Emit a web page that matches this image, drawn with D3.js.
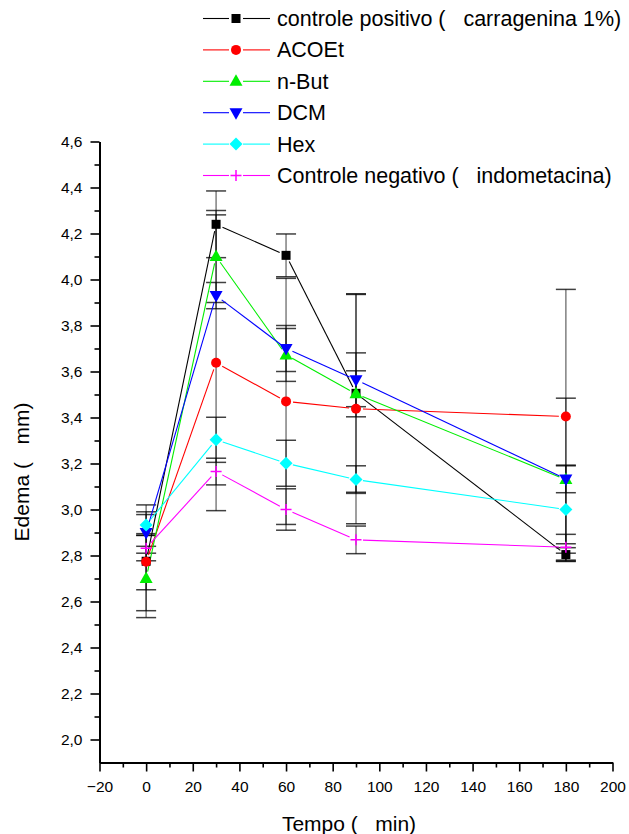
<!DOCTYPE html>
<html>
<head>
<meta charset="utf-8">
<script src="https://cdn.jsdelivr.net/npm/d3@7"></script>
<style>
  html, body { margin: 0; padding: 0; background: #fff; }
  svg { display: block; }
  text { font-family: "Liberation Sans", Arial, sans-serif; fill: #000; white-space: pre; }
</style>
</head>
<body>
<svg id="chart" width="629" height="834"></svg>
<script>
// ---- data ----
const times = [0, 30, 60, 90, 180];
const seriesNames = ["controle positivo (   carragenina 1%)", "ACOEt", "n-But", "DCM", "Hex", "Controle negativo (   indometacina)"];
const positivo = [2.775, 4.24, 4.105, 3.505, 2.804];
const positivoErr = [0.245, 0.145, 0.093, 0.43, 0.03];
const acoet = [2.773, 3.638, 3.47, 3.438, 3.404];
const acoetErr = [0.122, 0.643, 0.535, 0.50, 0.553];
const nbut = [2.70, 4.10, 3.672, 3.503, 3.13];
const nbutErr = [0.14, 0.20, 0.115, 0.10, 0.354];
const dcm = [2.90, 3.93, 3.70, 3.564, 3.133];
const dcmErr = [0.09, 0.057, 0.10, 0.117, 0.06];
const hex = [2.933, 3.303, 3.201, 3.13, 3.0];
const hexErr = [0.045, 0.098, 0.10, 0.06, 0.19];
const negativo = [2.832, 3.165, 3.0, 2.868, 2.836];
const negativoErr = [0.055, 0.058, 0.09, 0.06, 0.056];
const xTicks = [-20, 0, 20, 40, 60, 80, 100, 120, 140, 160, 180, 200];
const yTicks = [2.0, 2.2, 2.4, 2.6, 2.8, 3.0, 3.2, 3.4, 3.6, 3.8, 4.0, 4.2, 4.4, 4.6];

const colors = ["#000000", "#ff0000", "#00ee00", "#0000ff", "#00ffff", "#ff00ff"];
const symbols = ["square", "circle", "triUp", "triDown", "diamond", "plus"];
const values = [positivo, acoet, nbut, dcm, hex, negativo];
const errors = [positivoErr, acoetErr, nbutErr, dcmErr, hexErr, negativoErr];

const series = seriesNames.map((name, i) => ({
  name, color: colors[i], symbol: symbols[i],
  pts: times.map((t, j) => ({ t, v: values[i][j], e: errors[i][j] }))
}));

// ---- layout ----
const svg = d3.select("#chart");
const x = d3.scaleLinear().domain([-20, 200]).range([99.5, 612.5]);
const y = d3.scaleLinear().domain([1.9, 4.6]).range([762.5, 141.5]);

// axes
const fmt = d => d3.format(".1f")(d).replace(".", ",");
const gx = svg.append("g").attr("transform", `translate(0,${y(1.9)})`)
  .call(d3.axisBottom(x).tickValues(xTicks).tickSize(9).tickSizeOuter(0).tickPadding(6).tickFormat(d3.format("d")));
const gxm = svg.append("g").attr("transform", `translate(0,${y(1.9)})`)
  .call(d3.axisBottom(x).tickValues(d3.range(-10, 200, 20)).tickSize(5).tickSizeOuter(0).tickFormat(""));
const gy = svg.append("g").attr("transform", `translate(${x(-20)},0)`)
  .call(d3.axisLeft(y).tickValues(yTicks).tickSize(9).tickSizeOuter(0).tickPadding(8).tickFormat(fmt));
const gym = svg.append("g").attr("transform", `translate(${x(-20)},0)`)
  .call(d3.axisLeft(y).tickValues(d3.range(2.1, 4.6, 0.2)).tickSize(5).tickSizeOuter(0).tickFormat(""));
[gx, gxm, gy, gym].forEach(g => {
  g.selectAll("path.domain").attr("stroke", "#000").attr("stroke-width", 2);
  g.selectAll(".tick line").attr("stroke", "#000").attr("stroke-width", 1.6);
  g.selectAll(".tick text").style("font-family", "'Liberation Sans', Arial, sans-serif").style("font-size", "15.5px").attr("fill", "#000");
});
gx.selectAll(".tick text").attr("dy", "0.95em");

// axis titles
svg.append("text").attr("x", 349).attr("y", 831).attr("text-anchor", "middle")
  .style("font-size", "21px").text("Tempo (   min)");
svg.append("text").attr("transform", "translate(29,472) rotate(-90)").attr("text-anchor", "middle")
  .style("font-size", "21px").text("Edema (   mm)");

// symbol drawer
function drawSymbol(g, type, cx, cy, color) {
  if (type === "square") {
    g.append("rect").attr("x", cx - 4.5).attr("y", cy - 4.5).attr("width", 9).attr("height", 9).attr("fill", color);
  } else if (type === "circle") {
    g.append("circle").attr("cx", cx).attr("cy", cy).attr("r", 5).attr("fill", color);
  } else if (type === "triUp") {
    g.append("path").attr("d", `M${cx},${cy - 7}L${cx + 6.5},${cy + 4.5}L${cx - 6.5},${cy + 4.5}Z`).attr("fill", color);
  } else if (type === "triDown") {
    g.append("path").attr("d", `M${cx},${cy + 7}L${cx + 6.5},${cy - 4.5}L${cx - 6.5},${cy - 4.5}Z`).attr("fill", color);
  } else if (type === "diamond") {
    g.append("path").attr("d", `M${cx},${cy - 6.5}L${cx + 6.5},${cy}L${cx},${cy + 6.5}L${cx - 6.5},${cy}Z`).attr("fill", color);
  } else if (type === "plus") {
    g.append("path").attr("d", `M${cx - 5.5},${cy}H${cx + 5.5}M${cx},${cy - 5.5}V${cy + 5.5}`).attr("stroke", color).attr("stroke-width", 1.5).attr("fill", "none");
  }
}

// error bars
const eb = svg.append("g");
series.forEach(s => {
  s.pts.forEach(p => {
    const cx = x(p.t), y1 = y(p.v + p.e), y2 = y(p.v - p.e);
    eb.append("line").attr("x1", cx).attr("x2", cx).attr("y1", y1).attr("y2", y2)
      .attr("stroke", "#000").attr("stroke-opacity", 0.5).attr("stroke-width", 1.5);
    [y1, y2].forEach(yy => eb.append("line").attr("x1", cx - 10).attr("x2", cx + 10).attr("y1", yy).attr("y2", yy)
      .attr("stroke", "#000").attr("stroke-opacity", 0.75).attr("stroke-width", 1.5));
  });
});

// lines with gaps around markers
const gap = 7;
const lg = svg.append("g");
series.forEach(s => {
  for (let j = 0; j < s.pts.length - 1; j++) {
    const ax = x(s.pts[j].t), ay = y(s.pts[j].v), bx = x(s.pts[j + 1].t), by = y(s.pts[j + 1].v);
    const L = Math.hypot(bx - ax, by - ay), ux = (bx - ax) / L, uy = (by - ay) / L;
    lg.append("line").attr("x1", ax + ux * gap).attr("y1", ay + uy * gap)
      .attr("x2", bx - ux * gap).attr("y2", by - uy * gap)
      .attr("stroke", s.color).attr("stroke-width", 1.1);
  }
});

// markers
const mg = svg.append("g");
series.forEach(s => s.pts.forEach(p => drawSymbol(mg, s.symbol, x(p.t), y(p.v), s.color)));

// legend
const leg = svg.append("g");
series.forEach((s, i) => {
  const ly = 18.5 + i * 31.4;
  leg.append("line").attr("x1", 203).attr("x2", 229).attr("y1", ly).attr("y2", ly).attr("stroke", s.color).attr("stroke-width", 1.1);
  leg.append("line").attr("x1", 243).attr("x2", 270).attr("y1", ly).attr("y2", ly).attr("stroke", s.color).attr("stroke-width", 1.1);
  drawSymbol(leg, s.symbol, 236, ly, s.color);
  leg.append("text").attr("x", 277).attr("y", ly + 7.5).style("font-size", "21.5px").text(s.name);
});
</script>
</body>
</html>
